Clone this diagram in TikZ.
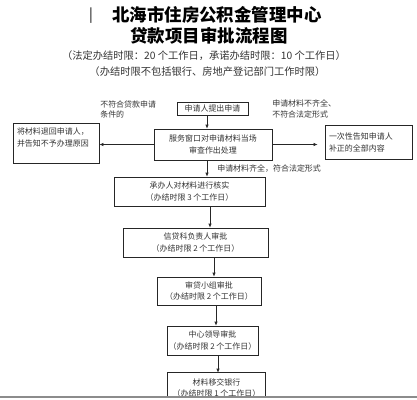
\documentclass[tikz,border=0pt]{standalone}
\usepackage{fontspec}
\newfontfamily\cjk{Noto Sans CJK SC}
\usetikzlibrary{arrows.meta,calc}
\begin{document}
\begin{tikzpicture}[x=1bp,y=-1bp,line width=0.6bp,
  box/.style={draw=black!85,inner sep=0pt,align=center,font=\cjk\fontsize{8}{12}\selectfont,text=black!80},
  sidebox/.style={draw=black!85,inner xsep=4bp,inner ysep=0pt,align=left,font=\cjk\fontsize{8}{12}\selectfont,text=black!80},
  lbl/.style={inner sep=0pt,align=left,anchor=north west,font=\cjk\fontsize{8}{11}\selectfont,text=black!80},
  ttl/.style={inner sep=0pt,font=\cjk\bfseries\fontsize{17.5}{20}\selectfont},
  sub/.style={inner sep=0pt,font=\cjk\fontsize{10.3}{12}\selectfont,text=black!80},
  arr/.style={draw=black!85,-{Latex[length=4bp,width=3.2bp]}}]
\useasboundingbox (0,0) rectangle (417,400);
\fill[white] (0,0) rectangle (417,400);
% titles
\node[inner sep=0pt,font=\cjk\fontsize{14}{16}\selectfont] (bar) at (91,16) {|};
\node[ttl] (t1) at (217,15) {北海市住房公积金管理中心};
\node[ttl] (t2) at (209,36) {贷款项目审批流程图};
\node[sub] (t3) at (204,56) {（法定办结时限：20 个工作日，承诺办结时限：10 个工作日）};
\node[sub] (t4) at (207.5,72) {（办结时限不包括银行、房地产登记部门工作时限）};
% boxes
\node[box,minimum width=71bp,minimum height=13bp] (b1) at (212.5,108.5) {申请人提出申请};
\node[box,minimum width=118bp,minimum height=31bp] (b2) at (213,144.5) {服务窗口对申请材料当场\\审查作出处理};
\node[sidebox,text width=78bp,minimum height=40bp] (lb) at (56,143) {将材料退回申请人，\\并告知不予办理原因\\\mbox{}};
\node[sidebox,text width=79bp,minimum height=34bp] (rb) at (368.5,142) {一次性告知申请人\\补正的全部内容};
\node[box,minimum width=151bp,minimum height=29bp] (b3) at (189.5,191.5) {承办人对材料进行核实\\（办结时限 3 个工作日）};
\node[box,minimum width=145bp,minimum height=29bp] (b4) at (195.5,242.5) {信贷科负责人审批\\（办结时限 2 个工作日）};
\node[box,minimum width=104bp,minimum height=28bp] (b5) at (209,291) {审贷小组审批\\（办结时限 2 个工作日）};
\node[box,minimum width=91bp,minimum height=29bp] (b6) at (212.5,340.5) {中心领导审批\\（办结时限 2 个工作日）};
\node[box,draw=none,minimum width=97bp,minimum height=30bp] (b7) at (216.5,388) {材料移交银行\\（办结时限 1 个工作日）};
\coordinate (cut) at (0,397);
\draw[black!85] (b7.west |- cut) |- (b7.north east) -- (b7.east |- cut);
\fill[white] (0,397.5) rectangle (417,400);
\draw[black!45,line width=1.2bp] (0,397) -- (417,397);
% labels
\node[lbl] (l1) at (100,100) {不符合贷款申请\\条件的};
\node[lbl] (l2) at (272,99.5) {申请材料不齐全、\\不符合法定形式};
\node[lbl] (l3) at (217,164.5) {申请材料齐全，符合法定形式};
% arrows
\coordinate (x12) at (207,0);
\coordinate (x34) at (210,0);
\coordinate (x45) at (214,0);
\coordinate (x56) at (216,0);
\coordinate (x67) at (218,0);
\draw[arr] (b1.south -| x12) -- (b2.north -| x12);
\draw[arr] (b2.south -| x12) -- (b3.north -| x12);
\draw[arr] (b3.south -| x34) -- (b4.north -| x34);
\draw[arr] (b4.south -| x45) -- (b5.north -| x45);
\draw[arr] (b5.south -| x56) -- (b6.north -| x56);
\draw[arr] (b6.south -| x67) -- (b7.north -| x67);
\draw[arr] (b2.west) -- (lb.east |- b2.west);
\draw[arr] (b2.east) -- ($(rb.west |- b2.east)+(-7,0)$);
\end{tikzpicture}
\end{document}
